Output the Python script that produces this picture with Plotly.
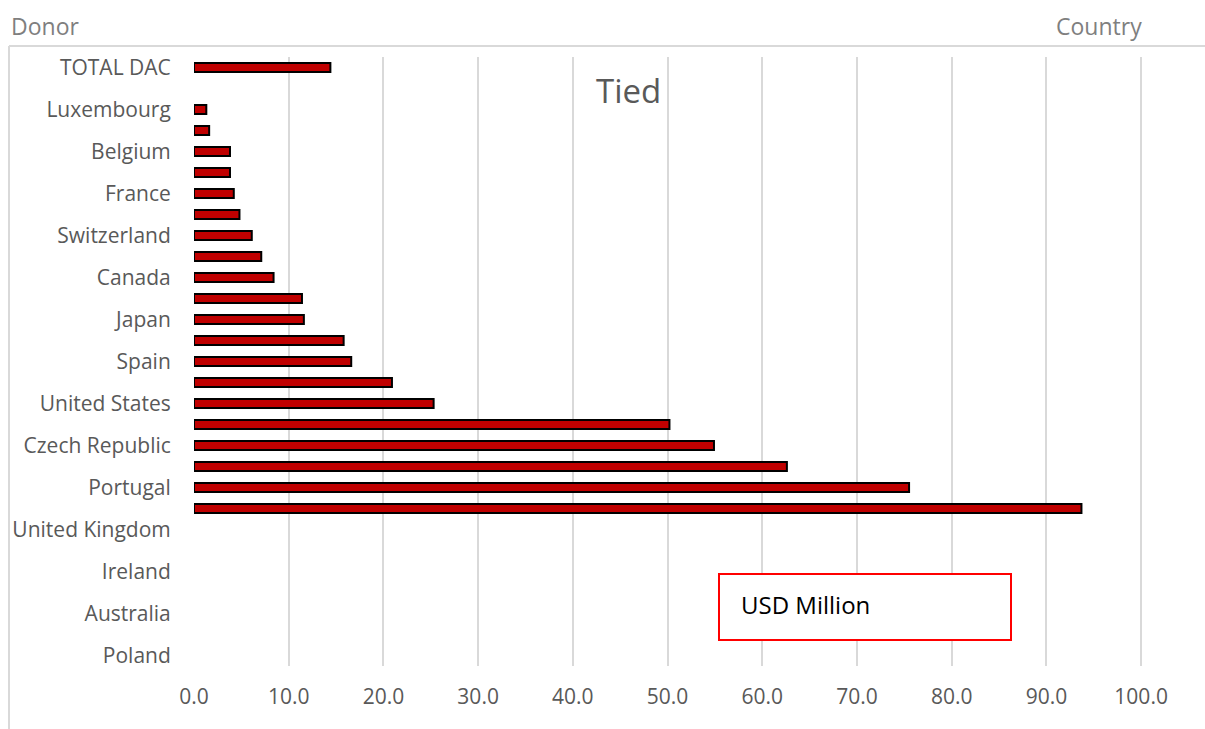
import plotly.graph_objects as go

# Donors, top to bottom; every other one carries a visible tick label
donors = [
    "TOTAL DAC", " ", "Luxembourg", "Austria", "Belgium", "Denmark", "France",
    "Germany", "Switzerland", "Sweden", "Canada", "Finland", "Japan", "Italy",
    "Spain", "Korea", "United States", "Greece", "Czech Republic",
    "Slovak Republic", "Portugal", "Slovenia", "United Kingdom", "Netherlands",
    "Ireland", "New Zealand", "Australia", "Norway", "Poland",
]
# None = no tied aid reported
tied_usd_m = [
    14.4, None, 1.3, 1.6, 3.8, 3.8, 4.2, 4.8, 6.1, 7.1, 8.4, 11.4, 11.6, 15.8,
    16.6, 20.9, 25.3, 50.2, 54.9, 62.6, 75.5, 93.7,
    None, None, None, None, None, None, None,
]
labelled = ["TOTAL DAC", "Luxembourg", "Belgium", "France", "Switzerland",
            "Canada", "Japan", "Spain", "United States", "Czech Republic",
            "Portugal", "United Kingdom", "Ireland", "Australia", "Poland"]
x_ticks = [0, 10, 20, 30, 40, 50, 60, 70, 80, 90, 100]

W, H = 1205, 729
ML, MR, MT, MB = 194, 26, 57, 63
PW, PH = W - ML - MR, H - MT - MB


def px(x):
    return (x - ML) / PW


def py(y):
    return (H - MB - y) / PH


FONT = "Open Sans"
GREY = "#595959"

fig = go.Figure(go.Bar(
    x=tied_usd_m, y=donors, orientation="h", width=0.42,
    marker=dict(color="#C00000", line=dict(color="#000000", width=2)),
    hoverinfo="x+y",
))

fig.update_layout(
    width=W, height=H, autosize=False,
    margin=dict(l=ML, r=MR, t=MT, b=MB, pad=0),
    paper_bgcolor="white", plot_bgcolor="white",
    showlegend=False,
    font=dict(family=FONT, color=GREY, size=21),
    xaxis=dict(range=[0, 104], tickvals=x_ticks,
               ticktext=[f"{v:.1f}" for v in x_ticks],
               showgrid=True, gridcolor="#D9D9D9", gridwidth=1.5,
               zeroline=False, showline=False, ticks="", ticklen=0,
               ticklabelstandoff=16,
               tickfont=dict(family=FONT, size=21, color=GREY)),
    yaxis=dict(type="category", categoryorder="array", categoryarray=donors,
               autorange="reversed", tickvals=labelled, ticktext=labelled,
               showgrid=False, zeroline=False, showline=False,
               ticks="outside", ticklen=18, tickcolor="rgba(0,0,0,0)",
               tickfont=dict(family=FONT, size=21, color=GREY)),
)


def label(x, y, text, size, color, xanchor="center"):
    fig.add_annotation(x=px(x), y=py(y), xref="paper", yref="paper",
                       xanchor=xanchor, yanchor="middle", text=text,
                       showarrow=False,
                       font=dict(family=FONT, size=size, color=color))


label(628, 90, "Tied", 33, GREY)
label(9, 26, "Donor", 23, "#7F7F7F", "left")
label(1144, 26, "Country", 23, "#7F7F7F", "right")

# outer frame edges
fig.add_shape(type="line", xref="paper", yref="paper",
              x0=px(9), x1=px(W), y0=py(46), y1=py(46),
              line=dict(color="#D9D9D9", width=2))
fig.add_shape(type="line", xref="paper", yref="paper",
              x0=px(9), x1=px(9), y0=py(46), y1=py(H),
              line=dict(color="#D9D9D9", width=2))

# unit box
fig.add_shape(type="rect", xref="paper", yref="paper",
              x0=px(719), x1=px(1011), y0=py(640), y1=py(574),
              line=dict(color="#FF0000", width=2), fillcolor="white")
label(739, 604, "USD Million", 24, "#000000", "left")

fig.write_html("out.html")
